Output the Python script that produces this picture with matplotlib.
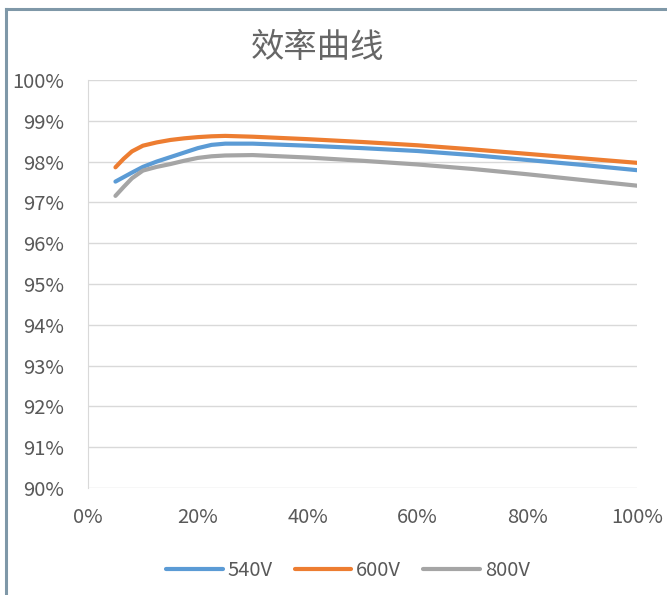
import matplotlib
matplotlib.use("Agg")
import matplotlib.pyplot as plt
from matplotlib.lines import Line2D
from matplotlib.ticker import FuncFormatter

# load (%) and efficiency (%)
load = [5, 6.5, 8, 10, 12.5, 15, 17.5, 20, 22.5, 25, 30, 40, 50, 60, 70, 80, 90, 100]
eff_540 = [97.51, 97.62, 97.73, 97.87, 98.00, 98.11, 98.22, 98.33, 98.41, 98.44, 98.44,
           98.39, 98.33, 98.26, 98.16, 98.04, 97.92, 97.79]
eff_600 = [97.86, 98.07, 98.25, 98.39, 98.47, 98.53, 98.57, 98.60, 98.62, 98.63, 98.61,
           98.55, 98.48, 98.40, 98.30, 98.19, 98.08, 97.97]
eff_800 = [97.16, 97.38, 97.59, 97.78, 97.87, 97.94, 98.02, 98.09, 98.13, 98.15, 98.16,
           98.10, 98.02, 97.93, 97.82, 97.69, 97.55, 97.41]
series_names = ["540V", "600V", "800V"]
colors = ["#5B9BD5", "#ED7D31", "#A5A5A5"]

plt.rcParams["font.family"] = ["Noto Sans CJK SC", "DejaVu Sans"]

W, H = 667, 595
fig = plt.figure(figsize=(W / 100, H / 100), dpi=100)
ax = fig.add_axes([88 / W, 1 - 488 / H, (637 - 88) / W, (488 - 80) / H])

for name, vals, c in zip(series_names, [eff_540, eff_600, eff_800], colors):
    ax.plot(load, vals, color=c, lw=3, label=name, solid_capstyle="round", solid_joinstyle="round")

ax.set_xlim(0, 100)
ax.set_ylim(90, 100)
ax.set_xticks(range(0, 101, 20))
ax.set_yticks(range(90, 101, 1))
pct = FuncFormatter(lambda v, p: f"{v:.0f}%")
ax.xaxis.set_major_formatter(pct)
ax.yaxis.set_major_formatter(pct)
ax.grid(axis="y", color="#D9D9D9", lw=1)
ax.set_axisbelow(True)
for s in ["top", "right", "bottom"]:
    ax.spines[s].set_visible(False)
ax.spines["left"].set_color("#D9D9D9")
ax.tick_params(axis="both", length=0, labelsize=14.5, labelcolor="#595959")
ax.tick_params(axis="y", pad=17.5)
ax.tick_params(axis="x", pad=14)

fig.text(318 / W, 1 - 48 / H, "效率曲线", ha="center", va="center", fontsize=24,
         color="#666666")

leg = fig.legend(loc="center", bbox_to_anchor=(348 / W, 1 - 571 / H), ncol=3, frameon=False,
                 fontsize=14.5, handlelength=2.8, handletextpad=0.25, columnspacing=1.1)
for t in leg.get_texts():
    t.set_color("#595959")

# chart frame (left and top edges visible)
fc = "#7F98A8"
fig.add_artist(Line2D([5.5 / W, 5.5 / W], [0, 1 - 9 / H], color=fc, lw=2.2, transform=fig.transFigure))
fig.add_artist(Line2D([5.5 / W, 1], [1 - 9 / H, 1 - 9 / H], color=fc, lw=2.2, transform=fig.transFigure))

fig.savefig("out.png", dpi=100)
